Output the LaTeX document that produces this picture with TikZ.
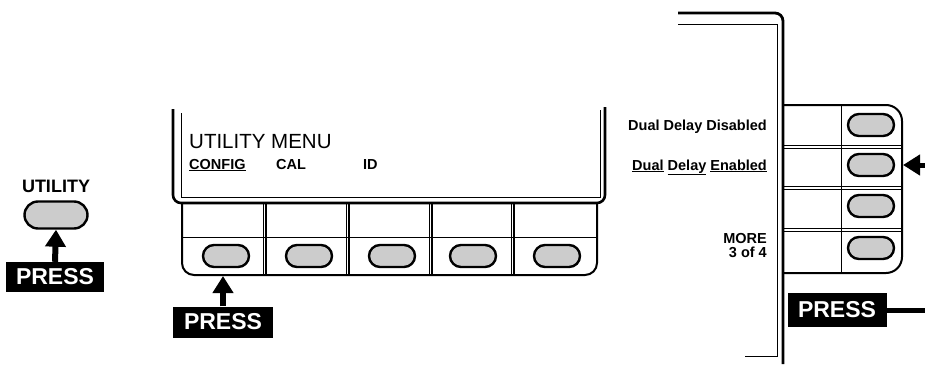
\documentclass[tikz,border=0pt]{standalone}
\usepackage{fontspec}
\setmainfont{Liberation Sans}
\usetikzlibrary{positioning,shapes.misc,arrows.meta}

\tikzset{
  softkey/.style={rounded rectangle, draw, line width=2.4pt, fill=gray!40,
    minimum width=46pt, minimum height=22pt, inner sep=0pt},
  pressbox/.style={fill=black, text=white, inner sep=0pt,
    font=\bfseries\fontsize{23}{23}\selectfont, minimum width=98pt, minimum height=30pt},
  pressarrow/.style={line width=6pt, -{Triangle[width=20pt,length=17pt]}},
  thinline/.style={line width=0.9pt},
  lbl/.style={font=\bfseries\fontsize{14.5}{14}\selectfont, inner sep=0pt},
}

\begin{document}
\begin{tikzpicture}[x=1pt, y=-1pt]
\useasboundingbox (0,0) rectangle (925,364);

    % UTILITY key on the front panel
    \node[lbl, font=\bfseries\fontsize{18}{18}\selectfont] (utillbl) at (56,186) {UTILITY};
    \node[softkey, minimum width=63pt, minimum height=27pt] (ukey) at (56,215) {};
    \node[pressbox] (lpress) at (55,277) {PRESS};
    \draw[pressarrow] (lpress.north) -- (ukey.south);

    % Display with the utility menu
    \draw[line width=2.6pt, rounded corners=8pt] (173,109) -- (173,203) -- (605,203) -- (605,107);
    \draw[thinline] (181,113) -- (181,197) -- (600,197) -- (600,110);
    \node[anchor=base west, inner sep=0pt, font=\fontsize{20.5}{20}\selectfont] (menutitle) at (189,148) {UTILITY MENU};
    \node[lbl, anchor=base west] (cfg) at (189,169) {\underline{CONFIG}};
    \node[lbl, anchor=base west] (cal) at (276,169) {CAL};
    \node[lbl, anchor=base west] (id) at (363,169) {ID};

    % Softkey strip under the display
    \draw[line width=2pt, rounded corners=12pt] (182,204) -- (182,275) -- (597,275) -- (597,204);
    \draw[thinline] (182,237) -- (597,237);
    \foreach \x in {266,349,432,514} {
        \draw[line width=1.6pt] (\x,204) -- (\x,275);
        \draw[thinline] (\x-3,204) -- (\x-3,275);
    }
    \foreach \i/\x in {1/226,2/309,3/392,4/473,5/557}
        \node[softkey] (mk\i) at (\x,256) {};

    \node[pressbox, minimum width=100pt, minimum height=31pt] (mpress) at (223,322) {PRESS};
    \coordinate (stripbot) at (223,276);
    \draw[pressarrow] (mpress.north) -- (stripbot);

    % Config screen with the vertical softkeys
    \draw[line width=2.8pt, rounded corners=8pt] (678,13) -- (783,13) -- (783,364);
    \draw[thinline] (678,24) -- (777,24) -- (777,356) -- (745,356);

    \draw[line width=2pt, rounded corners=16pt] (783,105) -- (902,105) -- (902,273) -- (783,273);
    \draw[thinline] (841,105) -- (841,273);
    \foreach \y in {147,188,230} {
        \draw[line width=1.6pt] (783,\y+1.5) -- (902,\y+1.5);
        \draw[thinline] (783,\y-1.5) -- (902,\y-1.5);
    }
    \foreach \i/\y in {1/125,2/165,3/206,4/248}
        \node[softkey] (rk\i) at (871,\y) {};

    \node[lbl, anchor=base east] (ddoff) at (767,130) {Dual Delay Disabled};
    \node[lbl, anchor=base east] (ddon) at (767,170) {\underline{Dual} \underline{Delay} \underline{Enabled}};
    \node[lbl, anchor=base east] (more) at (767,243) {MORE};
    \node[lbl, anchor=base east] (page) at (767,257) {3 of 4};

    \coordinate (rarrow) at (925,165);
    \coordinate (coledge) at (903,165);
    \draw[pressarrow, line width=5pt] (rarrow) -- (coledge);

    \node[pressbox, minimum width=99pt, minimum height=34pt] (rpress) at (837,310) {PRESS};
    \coordinate (rline) at (925,310);
    \draw[line width=5pt] (rpress.east) -- (rline);
\end{tikzpicture}
\end{document}
